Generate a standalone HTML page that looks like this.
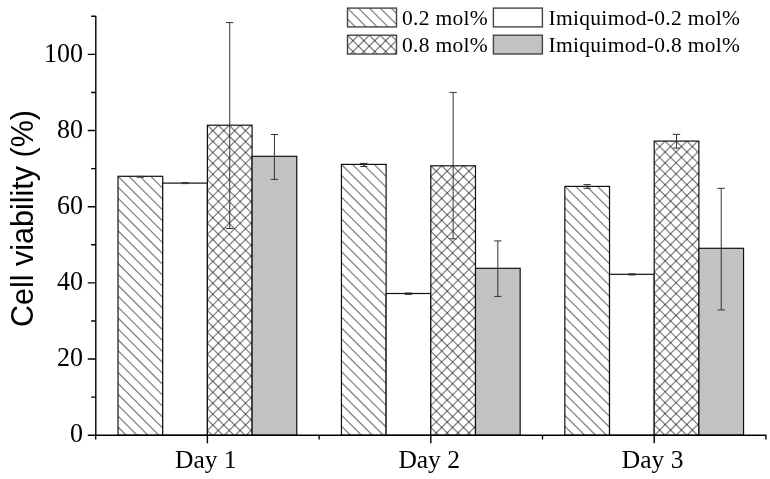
<!DOCTYPE html>
<html><head><meta charset="utf-8"><style>
html,body{margin:0;padding:0;background:#fff;}
svg{display:block;}
text{fill:#000;}
</style></head><body>
<svg width="770" height="479" viewBox="0 0 770 479" font-family="Liberation Serif">
<defs><filter id="gs" x="0" y="0" width="1" height="1"><feConvolveMatrix order="3" kernelMatrix="0 0 0 0 1 0 0 0 0" divisor="1" edgeMode="duplicate"/></filter><clipPath id="c0"><rect x="118.04" y="176.30" width="44.68" height="258.90"/></clipPath><clipPath id="c1"><rect x="207.40" y="125.20" width="44.68" height="310.00"/></clipPath><clipPath id="c2"><rect x="341.44" y="164.40" width="44.68" height="270.80"/></clipPath><clipPath id="c3"><rect x="430.80" y="165.80" width="44.68" height="269.40"/></clipPath><clipPath id="c4"><rect x="564.84" y="186.40" width="44.68" height="248.80"/></clipPath><clipPath id="c5"><rect x="654.20" y="141.10" width="44.68" height="294.10"/></clipPath><clipPath id="c6"><rect x="347.50" y="8.10" width="49.00" height="18.80"/></clipPath><clipPath id="c7"><rect x="347.50" y="35.20" width="49.00" height="18.80"/></clipPath></defs>
<rect width="770" height="479" fill="#fff"/>
<g>
<rect width="770" height="479" fill="#fff"/>
<rect x="118.04" y="176.30" width="44.68" height="258.90" fill="#fff"/><g clip-path="url(#c0)"><path d="M-154.46 176.30L104.44 435.20M-143.56 176.30L115.34 435.20M-132.66 176.30L126.24 435.20M-121.76 176.30L137.14 435.20M-110.86 176.30L148.04 435.20M-99.96 176.30L158.94 435.20M-89.06 176.30L169.84 435.20M-78.16 176.30L180.74 435.20M-67.26 176.30L191.64 435.20M-56.36 176.30L202.54 435.20M-45.46 176.30L213.44 435.20M-34.56 176.30L224.34 435.20M-23.66 176.30L235.24 435.20M-12.76 176.30L246.14 435.20M-1.86 176.30L257.04 435.20M9.04 176.30L267.94 435.20M19.94 176.30L278.84 435.20M30.84 176.30L289.74 435.20M41.74 176.30L300.64 435.20M52.64 176.30L311.54 435.20M63.54 176.30L322.44 435.20M74.44 176.30L333.34 435.20M85.34 176.30L344.24 435.20M96.24 176.30L355.14 435.20M107.14 176.30L366.04 435.20M118.04 176.30L376.94 435.20M128.94 176.30L387.84 435.20M139.84 176.30L398.74 435.20M150.74 176.30L409.64 435.20M161.64 176.30L420.54 435.20M172.54 176.30L431.44 435.20M183.44 176.30L442.34 435.20" stroke="#000" stroke-opacity="0.48" stroke-width="1.3" fill="none"/></g><rect x="118.04" y="176.30" width="44.68" height="258.90" fill="none" stroke="#111" stroke-width="1.2"/>
<rect x="162.72" y="183.10" width="44.68" height="252.10" fill="#fff"/><rect x="162.72" y="183.10" width="44.68" height="252.10" fill="none" stroke="#111" stroke-width="1.2"/>
<rect x="207.40" y="125.20" width="44.68" height="310.00" fill="#fff"/><g clip-path="url(#c1)"><path d="M-119.60 125.20L190.40 435.20M-108.70 125.20L201.30 435.20M-97.80 125.20L212.20 435.20M-86.90 125.20L223.10 435.20M-76.00 125.20L234.00 435.20M-65.10 125.20L244.90 435.20M-54.20 125.20L255.80 435.20M-43.30 125.20L266.70 435.20M-32.40 125.20L277.60 435.20M-21.50 125.20L288.50 435.20M-10.60 125.20L299.40 435.20M0.30 125.20L310.30 435.20M11.20 125.20L321.20 435.20M22.10 125.20L332.10 435.20M33.00 125.20L343.00 435.20M43.90 125.20L353.90 435.20M54.80 125.20L364.80 435.20M65.70 125.20L375.70 435.20M76.60 125.20L386.60 435.20M87.50 125.20L397.50 435.20M98.40 125.20L408.40 435.20M109.30 125.20L419.30 435.20M120.20 125.20L430.20 435.20M131.10 125.20L441.10 435.20M142.00 125.20L452.00 435.20M152.90 125.20L462.90 435.20M163.80 125.20L473.80 435.20M174.70 125.20L484.70 435.20M185.60 125.20L495.60 435.20M196.50 125.20L506.50 435.20M207.40 125.20L517.40 435.20M218.30 125.20L528.30 435.20M229.20 125.20L539.20 435.20M240.10 125.20L550.10 435.20M251.00 125.20L561.00 435.20M261.90 125.20L571.90 435.20M272.80 125.20L582.80 435.20" stroke="#000" stroke-opacity="0.48" stroke-width="1.3" fill="none"/><path d="M207.40 125.20L-102.60 435.20M218.30 125.20L-91.70 435.20M229.20 125.20L-80.80 435.20M240.10 125.20L-69.90 435.20M251.00 125.20L-59.00 435.20M261.90 125.20L-48.10 435.20M272.80 125.20L-37.20 435.20M283.70 125.20L-26.30 435.20M294.60 125.20L-15.40 435.20M305.50 125.20L-4.50 435.20M316.40 125.20L6.40 435.20M327.30 125.20L17.30 435.20M338.20 125.20L28.20 435.20M349.10 125.20L39.10 435.20M360.00 125.20L50.00 435.20M370.90 125.20L60.90 435.20M381.80 125.20L71.80 435.20M392.70 125.20L82.70 435.20M403.60 125.20L93.60 435.20M414.50 125.20L104.50 435.20M425.40 125.20L115.40 435.20M436.30 125.20L126.30 435.20M447.20 125.20L137.20 435.20M458.10 125.20L148.10 435.20M469.00 125.20L159.00 435.20M479.90 125.20L169.90 435.20M490.80 125.20L180.80 435.20M501.70 125.20L191.70 435.20M512.60 125.20L202.60 435.20M523.50 125.20L213.50 435.20M534.40 125.20L224.40 435.20M545.30 125.20L235.30 435.20M556.20 125.20L246.20 435.20M567.10 125.20L257.10 435.20M578.00 125.20L268.00 435.20" stroke="#000" stroke-opacity="0.48" stroke-width="1.3" fill="none"/></g><rect x="207.40" y="125.20" width="44.68" height="310.00" fill="none" stroke="#111" stroke-width="1.2"/>
<rect x="252.08" y="156.30" width="44.68" height="278.90" fill="#c2c2c2"/><rect x="252.08" y="156.30" width="44.68" height="278.90" fill="none" stroke="#111" stroke-width="1.2"/>
<rect x="341.44" y="164.40" width="44.68" height="270.80" fill="#fff"/><g clip-path="url(#c2)"><path d="M58.04 164.40L328.84 435.20M68.94 164.40L339.74 435.20M79.84 164.40L350.64 435.20M90.74 164.40L361.54 435.20M101.64 164.40L372.44 435.20M112.54 164.40L383.34 435.20M123.44 164.40L394.24 435.20M134.34 164.40L405.14 435.20M145.24 164.40L416.04 435.20M156.14 164.40L426.94 435.20M167.04 164.40L437.84 435.20M177.94 164.40L448.74 435.20M188.84 164.40L459.64 435.20M199.74 164.40L470.54 435.20M210.64 164.40L481.44 435.20M221.54 164.40L492.34 435.20M232.44 164.40L503.24 435.20M243.34 164.40L514.14 435.20M254.24 164.40L525.04 435.20M265.14 164.40L535.94 435.20M276.04 164.40L546.84 435.20M286.94 164.40L557.74 435.20M297.84 164.40L568.64 435.20M308.74 164.40L579.54 435.20M319.64 164.40L590.44 435.20M330.54 164.40L601.34 435.20M341.44 164.40L612.24 435.20M352.34 164.40L623.14 435.20M363.24 164.40L634.04 435.20M374.14 164.40L644.94 435.20M385.04 164.40L655.84 435.20M395.94 164.40L666.74 435.20M406.84 164.40L677.64 435.20" stroke="#000" stroke-opacity="0.48" stroke-width="1.3" fill="none"/></g><rect x="341.44" y="164.40" width="44.68" height="270.80" fill="none" stroke="#111" stroke-width="1.2"/>
<rect x="386.12" y="293.50" width="44.68" height="141.70" fill="#fff"/><rect x="386.12" y="293.50" width="44.68" height="141.70" fill="none" stroke="#111" stroke-width="1.2"/>
<rect x="430.80" y="165.80" width="44.68" height="269.40" fill="#fff"/><g clip-path="url(#c3)"><path d="M147.40 165.80L416.80 435.20M158.30 165.80L427.70 435.20M169.20 165.80L438.60 435.20M180.10 165.80L449.50 435.20M191.00 165.80L460.40 435.20M201.90 165.80L471.30 435.20M212.80 165.80L482.20 435.20M223.70 165.80L493.10 435.20M234.60 165.80L504.00 435.20M245.50 165.80L514.90 435.20M256.40 165.80L525.80 435.20M267.30 165.80L536.70 435.20M278.20 165.80L547.60 435.20M289.10 165.80L558.50 435.20M300.00 165.80L569.40 435.20M310.90 165.80L580.30 435.20M321.80 165.80L591.20 435.20M332.70 165.80L602.10 435.20M343.60 165.80L613.00 435.20M354.50 165.80L623.90 435.20M365.40 165.80L634.80 435.20M376.30 165.80L645.70 435.20M387.20 165.80L656.60 435.20M398.10 165.80L667.50 435.20M409.00 165.80L678.40 435.20M419.90 165.80L689.30 435.20M430.80 165.80L700.20 435.20M441.70 165.80L711.10 435.20M452.60 165.80L722.00 435.20M463.50 165.80L732.90 435.20M474.40 165.80L743.80 435.20M485.30 165.80L754.70 435.20M496.20 165.80L765.60 435.20" stroke="#000" stroke-opacity="0.48" stroke-width="1.3" fill="none"/><path d="M430.80 165.80L161.40 435.20M441.70 165.80L172.30 435.20M452.60 165.80L183.20 435.20M463.50 165.80L194.10 435.20M474.40 165.80L205.00 435.20M485.30 165.80L215.90 435.20M496.20 165.80L226.80 435.20M507.10 165.80L237.70 435.20M518.00 165.80L248.60 435.20M528.90 165.80L259.50 435.20M539.80 165.80L270.40 435.20M550.70 165.80L281.30 435.20M561.60 165.80L292.20 435.20M572.50 165.80L303.10 435.20M583.40 165.80L314.00 435.20M594.30 165.80L324.90 435.20M605.20 165.80L335.80 435.20M616.10 165.80L346.70 435.20M627.00 165.80L357.60 435.20M637.90 165.80L368.50 435.20M648.80 165.80L379.40 435.20M659.70 165.80L390.30 435.20M670.60 165.80L401.20 435.20M681.50 165.80L412.10 435.20M692.40 165.80L423.00 435.20M703.30 165.80L433.90 435.20M714.20 165.80L444.80 435.20M725.10 165.80L455.70 435.20M736.00 165.80L466.60 435.20M746.90 165.80L477.50 435.20M757.80 165.80L488.40 435.20" stroke="#000" stroke-opacity="0.48" stroke-width="1.3" fill="none"/></g><rect x="430.80" y="165.80" width="44.68" height="269.40" fill="none" stroke="#111" stroke-width="1.2"/>
<rect x="475.48" y="268.30" width="44.68" height="166.90" fill="#c2c2c2"/><rect x="475.48" y="268.30" width="44.68" height="166.90" fill="none" stroke="#111" stroke-width="1.2"/>
<rect x="564.84" y="186.40" width="44.68" height="248.80" fill="#fff"/><g clip-path="url(#c4)"><path d="M303.24 186.40L552.04 435.20M314.14 186.40L562.94 435.20M325.04 186.40L573.84 435.20M335.94 186.40L584.74 435.20M346.84 186.40L595.64 435.20M357.74 186.40L606.54 435.20M368.64 186.40L617.44 435.20M379.54 186.40L628.34 435.20M390.44 186.40L639.24 435.20M401.34 186.40L650.14 435.20M412.24 186.40L661.04 435.20M423.14 186.40L671.94 435.20M434.04 186.40L682.84 435.20M444.94 186.40L693.74 435.20M455.84 186.40L704.64 435.20M466.74 186.40L715.54 435.20M477.64 186.40L726.44 435.20M488.54 186.40L737.34 435.20M499.44 186.40L748.24 435.20M510.34 186.40L759.14 435.20M521.24 186.40L770.04 435.20M532.14 186.40L780.94 435.20M543.04 186.40L791.84 435.20M553.94 186.40L802.74 435.20M564.84 186.40L813.64 435.20M575.74 186.40L824.54 435.20M586.64 186.40L835.44 435.20M597.54 186.40L846.34 435.20M608.44 186.40L857.24 435.20M619.34 186.40L868.14 435.20M630.24 186.40L879.04 435.20" stroke="#000" stroke-opacity="0.48" stroke-width="1.3" fill="none"/></g><rect x="564.84" y="186.40" width="44.68" height="248.80" fill="none" stroke="#111" stroke-width="1.2"/>
<rect x="609.52" y="274.30" width="44.68" height="160.90" fill="#fff"/><rect x="609.52" y="274.30" width="44.68" height="160.90" fill="none" stroke="#111" stroke-width="1.2"/>
<rect x="654.20" y="141.10" width="44.68" height="294.10" fill="#fff"/><g clip-path="url(#c5)"><path d="M349.00 141.10L643.10 435.20M359.90 141.10L654.00 435.20M370.80 141.10L664.90 435.20M381.70 141.10L675.80 435.20M392.60 141.10L686.70 435.20M403.50 141.10L697.60 435.20M414.40 141.10L708.50 435.20M425.30 141.10L719.40 435.20M436.20 141.10L730.30 435.20M447.10 141.10L741.20 435.20M458.00 141.10L752.10 435.20M468.90 141.10L763.00 435.20M479.80 141.10L773.90 435.20M490.70 141.10L784.80 435.20M501.60 141.10L795.70 435.20M512.50 141.10L806.60 435.20M523.40 141.10L817.50 435.20M534.30 141.10L828.40 435.20M545.20 141.10L839.30 435.20M556.10 141.10L850.20 435.20M567.00 141.10L861.10 435.20M577.90 141.10L872.00 435.20M588.80 141.10L882.90 435.20M599.70 141.10L893.80 435.20M610.60 141.10L904.70 435.20M621.50 141.10L915.60 435.20M632.40 141.10L926.50 435.20M643.30 141.10L937.40 435.20M654.20 141.10L948.30 435.20M665.10 141.10L959.20 435.20M676.00 141.10L970.10 435.20M686.90 141.10L981.00 435.20M697.80 141.10L991.90 435.20M708.70 141.10L1002.80 435.20M719.60 141.10L1013.70 435.20" stroke="#000" stroke-opacity="0.48" stroke-width="1.3" fill="none"/><path d="M654.20 141.10L360.10 435.20M665.10 141.10L371.00 435.20M676.00 141.10L381.90 435.20M686.90 141.10L392.80 435.20M697.80 141.10L403.70 435.20M708.70 141.10L414.60 435.20M719.60 141.10L425.50 435.20M730.50 141.10L436.40 435.20M741.40 141.10L447.30 435.20M752.30 141.10L458.20 435.20M763.20 141.10L469.10 435.20M774.10 141.10L480.00 435.20M785.00 141.10L490.90 435.20M795.90 141.10L501.80 435.20M806.80 141.10L512.70 435.20M817.70 141.10L523.60 435.20M828.60 141.10L534.50 435.20M839.50 141.10L545.40 435.20M850.40 141.10L556.30 435.20M861.30 141.10L567.20 435.20M872.20 141.10L578.10 435.20M883.10 141.10L589.00 435.20M894.00 141.10L599.90 435.20M904.90 141.10L610.80 435.20M915.80 141.10L621.70 435.20M926.70 141.10L632.60 435.20M937.60 141.10L643.50 435.20M948.50 141.10L654.40 435.20M959.40 141.10L665.30 435.20M970.30 141.10L676.20 435.20M981.20 141.10L687.10 435.20M992.10 141.10L698.00 435.20M1003.00 141.10L708.90 435.20M1013.90 141.10L719.80 435.20" stroke="#000" stroke-opacity="0.48" stroke-width="1.3" fill="none"/></g><rect x="654.20" y="141.10" width="44.68" height="294.10" fill="none" stroke="#111" stroke-width="1.2"/>
<rect x="698.88" y="248.30" width="44.68" height="186.90" fill="#c2c2c2"/><rect x="698.88" y="248.30" width="44.68" height="186.90" fill="none" stroke="#111" stroke-width="1.2"/>
<path d="M140.38 176.40V177.20M136.73 176.40H144.03M136.73 177.20H144.03" stroke="#333" stroke-width="1.0" fill="none"/>
<path d="M185.06 182.60V183.60M181.41 182.60H188.71M181.41 183.60H188.71" stroke="#333" stroke-width="1.0" fill="none"/>
<path d="M229.74 22.60V228.50M226.09 22.60H233.39M226.09 228.50H233.39" stroke="#333" stroke-width="1.0" fill="none"/>
<path d="M274.42 134.50V179.40M270.77 134.50H278.07M270.77 179.40H278.07" stroke="#333" stroke-width="1.0" fill="none"/>
<path d="M363.78 163.40V166.50M360.13 163.40H367.43M360.13 166.50H367.43" stroke="#333" stroke-width="1.0" fill="none"/>
<path d="M408.46 293.00V294.40M404.81 293.00H412.11M404.81 294.40H412.11" stroke="#333" stroke-width="1.0" fill="none"/>
<path d="M453.14 92.40V238.80M449.49 92.40H456.79M449.49 238.80H456.79" stroke="#333" stroke-width="1.0" fill="none"/>
<path d="M497.82 240.90V296.40M494.17 240.90H501.47M494.17 296.40H501.47" stroke="#333" stroke-width="1.0" fill="none"/>
<path d="M587.18 184.60V188.30M583.53 184.60H590.83M583.53 188.30H590.83" stroke="#333" stroke-width="1.0" fill="none"/>
<path d="M631.86 273.80V275.00M628.21 273.80H635.51M628.21 275.00H635.51" stroke="#333" stroke-width="1.0" fill="none"/>
<path d="M676.54 134.35V148.10M672.89 134.35H680.19M672.89 148.10H680.19" stroke="#333" stroke-width="1.0" fill="none"/>
<path d="M721.22 188.30V309.90M717.57 188.30H724.87M717.57 309.90H724.87" stroke="#333" stroke-width="1.0" fill="none"/>
<path d="M95.80 15.67V435.20M95.15 435.20H766.55M87.80 435.20H95.80M91.20 397.12H95.80M87.80 359.04H95.80M91.20 320.96H95.80M87.80 282.88H95.80M91.20 244.80H95.80M87.80 206.72H95.80M91.20 168.64H95.80M87.80 130.56H95.80M91.20 92.48H95.80M87.80 54.40H95.80M91.20 16.32H95.80M95.70 435.20V439.50M207.40 435.20V443.20M319.10 435.20V439.50M430.80 435.20V443.20M542.50 435.20V439.50M654.20 435.20V443.20M765.90 435.20V439.50" stroke="#000" stroke-width="1.4" fill="none"/>
<rect x="347.5" y="8.1" width="49" height="18.8" fill="#fff"/>
<g clip-path="url(#c6)"><path d="M314.80 8.10L333.60 26.90M325.70 8.10L344.50 26.90M336.60 8.10L355.40 26.90M347.50 8.10L366.30 26.90M358.40 8.10L377.20 26.90M369.30 8.10L388.10 26.90M380.20 8.10L399.00 26.90M391.10 8.10L409.90 26.90M402.00 8.10L420.80 26.90M412.90 8.10L431.70 26.90" stroke="#000" stroke-opacity="0.48" stroke-width="1.3" fill="none"/></g>
<rect x="347.5" y="8.1" width="49" height="18.8" fill="none" stroke="#444" stroke-width="1.4"/>
<rect x="493.4" y="8.1" width="49" height="18.8" fill="#fff"/>
<rect x="493.4" y="8.1" width="49" height="18.8" fill="none" stroke="#444" stroke-width="1.4"/>
<rect x="347.5" y="35.2" width="49" height="18.8" fill="#fff"/>
<g clip-path="url(#c7)"><path d="M314.80 35.20L333.60 54.00M325.70 35.20L344.50 54.00M336.60 35.20L355.40 54.00M347.50 35.20L366.30 54.00M358.40 35.20L377.20 54.00M369.30 35.20L388.10 54.00M380.20 35.20L399.00 54.00M391.10 35.20L409.90 54.00M402.00 35.20L420.80 54.00M412.90 35.20L431.70 54.00" stroke="#000" stroke-opacity="0.48" stroke-width="1.3" fill="none"/><path d="M347.50 35.20L328.70 54.00M358.40 35.20L339.60 54.00M369.30 35.20L350.50 54.00M380.20 35.20L361.40 54.00M391.10 35.20L372.30 54.00M402.00 35.20L383.20 54.00M412.90 35.20L394.10 54.00M423.80 35.20L405.00 54.00M434.70 35.20L415.90 54.00" stroke="#000" stroke-opacity="0.48" stroke-width="1.3" fill="none"/></g>
<rect x="347.5" y="35.2" width="49" height="18.8" fill="none" stroke="#444" stroke-width="1.4"/>
<rect x="493.4" y="35.2" width="49" height="18.8" fill="#c2c2c2"/>
<rect x="493.4" y="35.2" width="49" height="18.8" fill="none" stroke="#444" stroke-width="1.4"/>
</g>
<g filter="url(#gs)"><rect width="770" height="479" fill="#fff" fill-opacity="0"/>
<text transform="translate(83,442.30) scale(1,1.05)" text-anchor="end" font-family="Liberation Serif" font-size="26">0</text>
<text transform="translate(83,366.14) scale(1,1.05)" text-anchor="end" font-family="Liberation Serif" font-size="26">20</text>
<text transform="translate(83,289.98) scale(1,1.05)" text-anchor="end" font-family="Liberation Serif" font-size="26">40</text>
<text transform="translate(83,213.82) scale(1,1.05)" text-anchor="end" font-family="Liberation Serif" font-size="26">60</text>
<text transform="translate(83,137.66) scale(1,1.05)" text-anchor="end" font-family="Liberation Serif" font-size="26">80</text>
<text transform="translate(83,61.50) scale(1,1.05)" text-anchor="end" font-family="Liberation Serif" font-size="26">100</text>
<text x="205.80" y="468" text-anchor="middle" font-family="Liberation Serif" font-size="25.5">Day 1</text>
<text x="429.20" y="468" text-anchor="middle" font-family="Liberation Serif" font-size="25.5">Day 2</text>
<text x="652.60" y="468" text-anchor="middle" font-family="Liberation Serif" font-size="25.5">Day 3</text>
<text transform="translate(32.5,218.5) rotate(-90)" text-anchor="middle" font-family="Liberation Sans" font-size="30.5">Cell viability (%)</text>
<text x="402" y="24.60" font-family="Liberation Serif" font-size="21.5" letter-spacing="0.3">0.2 mol%</text>
<text x="548.5" y="24.60" font-family="Liberation Serif" font-size="21.5" letter-spacing="0.3">Imiquimod-0.2 mol%</text>
<text x="402" y="51.70" font-family="Liberation Serif" font-size="21.5" letter-spacing="0.3">0.8 mol%</text>
<text x="548.5" y="51.70" font-family="Liberation Serif" font-size="21.5" letter-spacing="0.3">Imiquimod-0.8 mol%</text>
</g>
</svg>
</body></html>
